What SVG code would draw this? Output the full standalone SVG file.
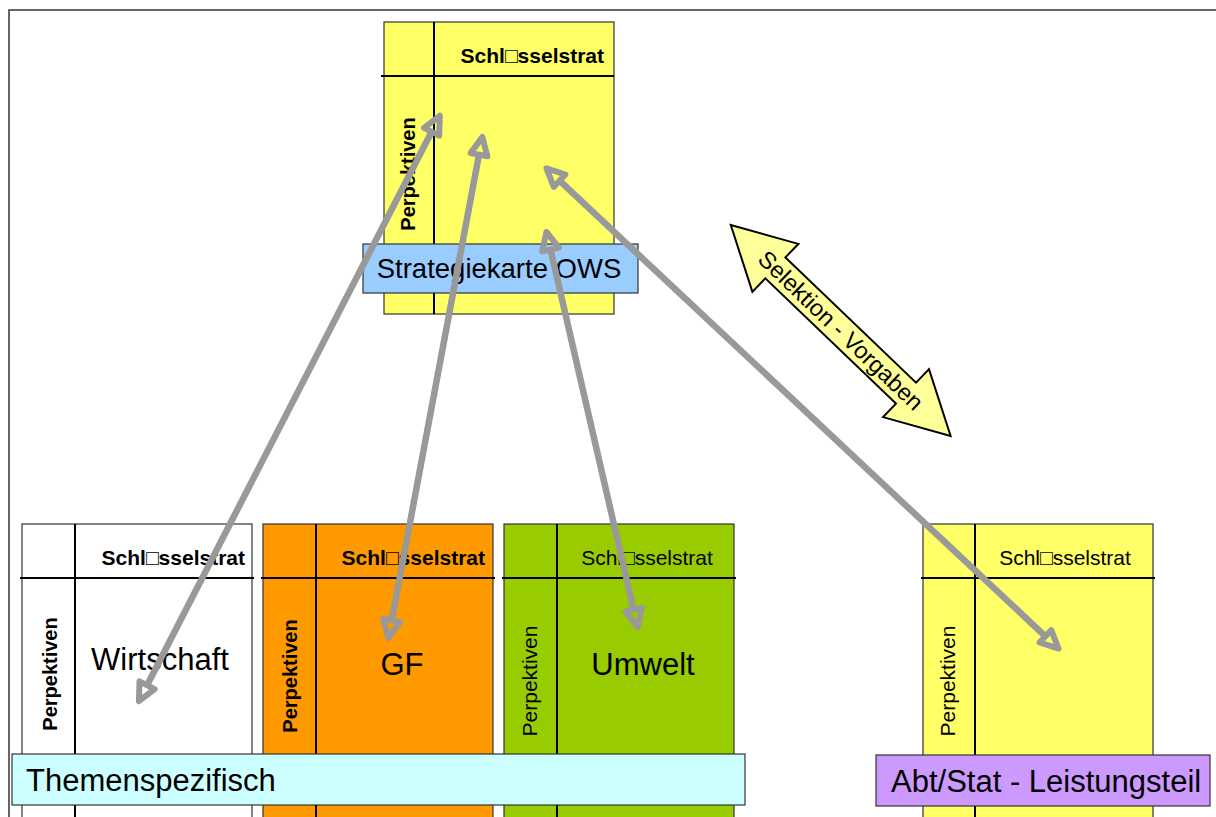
<svg xmlns="http://www.w3.org/2000/svg" width="1216" height="817" viewBox="0 0 1216 817">
  <defs>
    <style>
      text { font-family: "Liberation Sans", Arial, sans-serif; fill: #000; }
      .card { stroke: #333; stroke-width: 1.2; }
      .grid { stroke: #000; stroke-width: 2; fill: none; }
      .hdrB { font-size: 21px; font-weight: bold; text-anchor: end; }
      .hdr { font-size: 21px; text-anchor: middle; }
      .perspB { font-size: 20px; font-weight: bold; text-anchor: middle; }
      .persp { font-size: 21px; text-anchor: middle; }
      .big { font-size: 31px; text-anchor: middle; }
      .label { stroke: #333; stroke-width: 1.2; }
      .link { stroke: #999999; stroke-width: 6.5; fill: none; marker-start: url(#head); marker-end: url(#head); }
    </style>
    <!-- hollow triangular head, base sits on the shaft end -->
    <marker id="head" markerUnits="userSpaceOnUse" orient="auto-start-reverse" refX="0" refY="0" markerWidth="1" markerHeight="1" overflow="visible">
      <path d="M0,-8.5 L18,0 L0,8.5 Z" fill="none" stroke="#999999" stroke-width="6" stroke-linejoin="round"/>
    </marker>
  </defs>

  <rect width="1216" height="817" fill="#fff"/>
  <!-- outer frame -->
  <rect x="9" y="10" width="1240" height="840" fill="none" stroke="#333" stroke-width="1.5"/>

  <!-- top strategy map -->
  <g id="strategiekarte">
    <rect class="card" x="384" y="22" width="230" height="292" fill="#FFFF66"/>
    <path class="grid" d="M434,22 V314 M381,76 H614"/>
    <text class="hdrB" x="604" y="63">Schl□sselstrat</text>
    <text class="perspB" transform="translate(415,174) rotate(-90)">Perpektiven</text>
  </g>
  <g id="label-ows">
    <rect class="label" x="363" y="244" width="275" height="49" fill="#99CCFF"/>
    <text x="499" y="278" style="font-size:27.5px" text-anchor="middle">Strategiekarte OWS</text>
  </g>

  <!-- thematic cards -->
  <g id="card-wirtschaft">
    <rect class="card" x="22" y="524" width="230" height="300" fill="#FFFFFF"/>
    <path class="grid" d="M75,524 V824 M20,578 H254"/>
    <text class="hdrB" x="245" y="565">Schl□sselstrat</text>
    <text class="perspB" transform="translate(57,674) rotate(-90)">Perpektiven</text>
    <text class="big" x="160" y="670">Wirtschaft</text>
  </g>
  <g id="card-gf">
    <rect class="card" x="263" y="524" width="230" height="300" fill="#FF9900"/>
    <path class="grid" d="M316,524 V824 M261,578 H495"/>
    <text class="hdrB" x="485" y="565">Schl□sselstrat</text>
    <text class="perspB" transform="translate(297,676) rotate(-90)">Perpektiven</text>
    <text class="big" x="402" y="675">GF</text>
  </g>
  <g id="card-umwelt">
    <rect class="card" x="504" y="524" width="230" height="300" fill="#99CC00"/>
    <path class="grid" d="M557,524 V824 M502,578 H736"/>
    <text class="hdr" x="647" y="565">Schl□sselstrat</text>
    <text class="persp" transform="translate(537,681) rotate(-90)">Perpektiven</text>
    <text class="big" x="643" y="675">Umwelt</text>
  </g>
  <g id="card-abt">
    <rect class="card" x="923" y="524" width="230" height="300" fill="#FFFF66"/>
    <path class="grid" d="M975,524 V824 M921,578 H1155"/>
    <text class="hdr" x="1065" y="565">Schl□sselstrat</text>
    <text class="persp" transform="translate(955,681) rotate(-90)">Perpektiven</text>
  </g>

  <g id="label-themen">
    <rect class="label" x="12" y="754" width="733" height="51" fill="#CCFFFF"/>
    <text x="26" y="791" style="font-size:31px">Themenspezifisch</text>
  </g>
  <g id="label-abt">
    <rect class="label" x="876" y="755" width="334" height="51" fill="#CC99FF"/>
    <text x="891" y="792" style="font-size:31px">Abt/Stat - Leistungsteil</text>
  </g>

  <!-- block arrow: selection / targets -->
  <g id="selektion" transform="translate(840.7,330.5) rotate(43.8)">
    <polygon points="-152.3,0 -90.5,-33.2 -90.5,-14.5 90.5,-14.5 90.5,-33.2 152.3,0 90.5,33.2 90.5,14.5 -90.5,14.5 -90.5,33.2" fill="#FFFF99" stroke="#000" stroke-width="2" stroke-linejoin="miter"/>
    <text x="0" y="8" style="font-size:23.5px" text-anchor="middle">Selektion - Vorgaben</text>
  </g>

  <!-- connectors between the strategy map and the detail cards -->
  <g id="connectors">
    <path class="link" d="M431.6,131.8 L147.1,685.2"/>
    <path class="link" d="M479.0,154.7 L391.7,620.3"/>
    <path class="link" d="M550.5,249.5 L633.6,609.6"/>
    <path class="link" d="M559.6,180.7 L1045.4,636.3"/>
  </g>
</svg>
